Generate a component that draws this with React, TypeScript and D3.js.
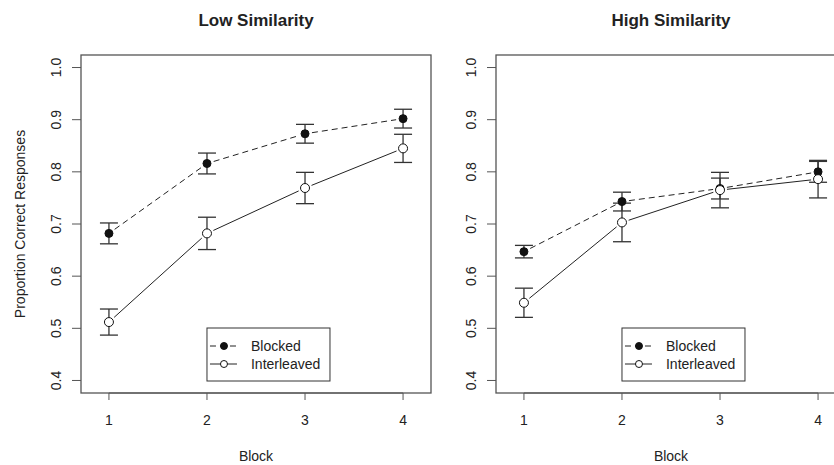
import React, { useEffect, useRef } from "react";
import * as d3 from "d3";

const blocks = [1, 2, 3, 4];
const yTicks = [0.4, 0.5, 0.6, 0.7, 0.8, 0.9, 1.0];
const panelTitles = ["Low Similarity", "High Similarity"];
const seriesNames = ["Blocked", "Interleaved"];

// low similarity
const lowBlocked = [0.682, 0.816, 0.873, 0.902];
const lowBlockedErr = [0.02, 0.02, 0.018, 0.018];
const lowInter = [0.512, 0.682, 0.769, 0.845];
const lowInterErr = [0.025, 0.031, 0.03, 0.027];

// high similarity
const highBlocked = [0.647, 0.743, 0.768, 0.8];
const highBlockedErr = [0.012, 0.018, 0.02, 0.02];
const highInter = [0.549, 0.703, 0.765, 0.786];
const highInterErr = [0.028, 0.037, 0.034, 0.036];

const width = 834;
const height = 465;
const font = "'Liberation Sans', Arial, Helvetica, sans-serif";
const ink = "#222";

const panels = [
  { left: 81, title: panelTitles[0], blocked: lowBlocked, bErr: lowBlockedErr, inter: lowInter, iErr: lowInterErr, ylab: true },
  { left: 496, title: panelTitles[1], blocked: highBlocked, bErr: highBlockedErr, inter: highInter, iErr: highInterErr, ylab: false }
];

const App = () => {
  const chart = useRef<SVGSVGElement>(null);

  useEffect(() => {
    document.body.style.margin = "0";
    const svg = d3.select(chart.current);
    svg.selectAll("*").remove();

    const top = 55;
    const bottom = 393;
    const boxW = 350;
    const y = d3.scaleLinear().domain([0.376, 1.024]).range([bottom, top]);

    panels.forEach(p => {
      const x = d3.scaleLinear().domain([0.715, 4.285]).range([p.left, p.left + boxW]);
      const g = svg.append("g");

      g.append("rect")
        .attr("x", p.left)
        .attr("y", top)
        .attr("width", boxW)
        .attr("height", bottom - top)
        .attr("fill", "none")
        .attr("stroke", "#555")
        .attr("stroke-width", 1.3);

      g.append("text")
        .attr("x", p.left + boxW / 2)
        .attr("y", 26)
        .attr("text-anchor", "middle")
        .attr("font-family", font)
        .attr("font-weight", "bold")
        .attr("font-size", 17)
        .attr("fill", ink)
        .text(p.title);

      // x axis
      const xa = g.append("g");
      xa.append("line")
        .attr("x1", x(1)).attr("x2", x(4))
        .attr("y1", bottom).attr("y2", bottom)
        .attr("stroke", "#555");
      xa.selectAll("line.tick")
        .data(blocks)
        .join("line")
        .attr("class", "tick")
        .attr("x1", d => x(d)).attr("x2", d => x(d))
        .attr("y1", bottom).attr("y2", bottom + 7)
        .attr("stroke", "#555");
      xa.selectAll("text")
        .data(blocks)
        .join("text")
        .attr("x", d => x(d))
        .attr("y", 425)
        .attr("text-anchor", "middle")
        .attr("font-family", font)
        .attr("font-size", 14)
        .attr("fill", ink)
        .text(d => d);
      g.append("text")
        .attr("x", p.left + boxW / 2)
        .attr("y", 461)
        .attr("text-anchor", "middle")
        .attr("font-family", font)
        .attr("font-size", 14)
        .attr("fill", ink)
        .text("Block");

      // y axis
      const ya = g.append("g");
      ya.selectAll("line")
        .data(yTicks)
        .join("line")
        .attr("x1", p.left - 9).attr("x2", p.left)
        .attr("y1", d => y(d)).attr("y2", d => y(d))
        .attr("stroke", "#555");
      ya.selectAll("text")
        .data(yTicks)
        .join("text")
        .attr("transform", d => `translate(${p.left - 20},${y(d)}) rotate(-90)`)
        .attr("text-anchor", "middle")
        .attr("font-family", font)
        .attr("font-size", 14)
        .attr("fill", ink)
        .text(d => d.toFixed(1));
      if (p.ylab) {
        g.append("text")
          .attr("transform", `translate(25,${(top + bottom) / 2}) rotate(-90)`)
          .attr("text-anchor", "middle")
          .attr("font-family", font)
          .attr("font-size", 14)
          .attr("fill", ink)
          .text("Proportion Correct Responses");
      }

      const series = [
        { vals: p.blocked, errs: p.bErr, dash: "6,4", filled: true },
        { vals: p.inter, errs: p.iErr, dash: null, filled: false }
      ];

      series.forEach(s => {
        const pts = s.vals.map((v, i) => [x(blocks[i]), y(v)]);
        // segments with gaps near the points (R type = "b")
        const gap = 7;
        for (let i = 0; i < pts.length - 1; i++) {
          const [x0, y0] = pts[i];
          const [x1, y1] = pts[i + 1];
          const len = Math.hypot(x1 - x0, y1 - y0);
          const ux = (x1 - x0) / len;
          const uy = (y1 - y0) / len;
          g.append("line")
            .attr("x1", x0 + ux * gap).attr("y1", y0 + uy * gap)
            .attr("x2", x1 - ux * gap).attr("y2", y1 - uy * gap)
            .attr("stroke", ink)
            .attr("stroke-width", 1)
            .attr("stroke-dasharray", s.dash);
        }

        // error bars
        const eb = g.append("g").attr("stroke", "#333").attr("stroke-width", 1.3);
        s.vals.forEach((v, i) => {
          const cx = x(blocks[i]);
          const yt = y(v + s.errs[i]);
          const yb = y(v - s.errs[i]);
          eb.append("line").attr("x1", cx).attr("x2", cx).attr("y1", yt).attr("y2", yb);
          eb.append("line").attr("x1", cx - 9).attr("x2", cx + 9).attr("y1", yt).attr("y2", yt);
          eb.append("line").attr("x1", cx - 9).attr("x2", cx + 9).attr("y1", yb).attr("y2", yb);
        });
      });

      series.forEach(s => {
        g.append("g")
          .selectAll("circle")
          .data(s.vals)
          .join("circle")
          .attr("cx", (d, i) => x(blocks[i]))
          .attr("cy", d => y(d))
          .attr("r", s.filled ? 4 : 4.5)
          .attr("fill", s.filled ? "#111" : "#fff")
          .attr("stroke", "#111")
          .attr("stroke-width", 1);
      });

      // legend
      const lx = x(2);
      const lg = g.append("g");
      lg.append("rect")
        .attr("x", lx)
        .attr("y", 328)
        .attr("width", 123)
        .attr("height", 53)
        .attr("fill", "#fff")
        .attr("stroke", "#333")
        .attr("stroke-width", 1);
      seriesNames.forEach((name, i) => {
        const ly = 346 + i * 18;
        lg.append("line")
          .attr("x1", lx + 3).attr("x2", lx + 30)
          .attr("y1", ly).attr("y2", ly)
          .attr("stroke", ink)
          .attr("stroke-dasharray", i === 0 ? "6,4" : null);
        lg.append("circle")
          .attr("cx", lx + 17)
          .attr("cy", ly)
          .attr("r", 3.5)
          .attr("fill", i === 0 ? "#111" : "#fff")
          .attr("stroke", "#111");
        lg.append("text")
          .attr("x", lx + 44)
          .attr("y", ly + 5)
          .attr("font-family", font)
          .attr("font-size", 14)
          .attr("fill", ink)
          .text(name);
      });
    });
  }, []);

  return (
    <svg
      ref={chart}
      width={width}
      height={height}
      viewBox={`0 0 ${width} ${height}`}
      style={{ display: "block", background: "#fff" }}
    ></svg>
  );
};

export default App;
